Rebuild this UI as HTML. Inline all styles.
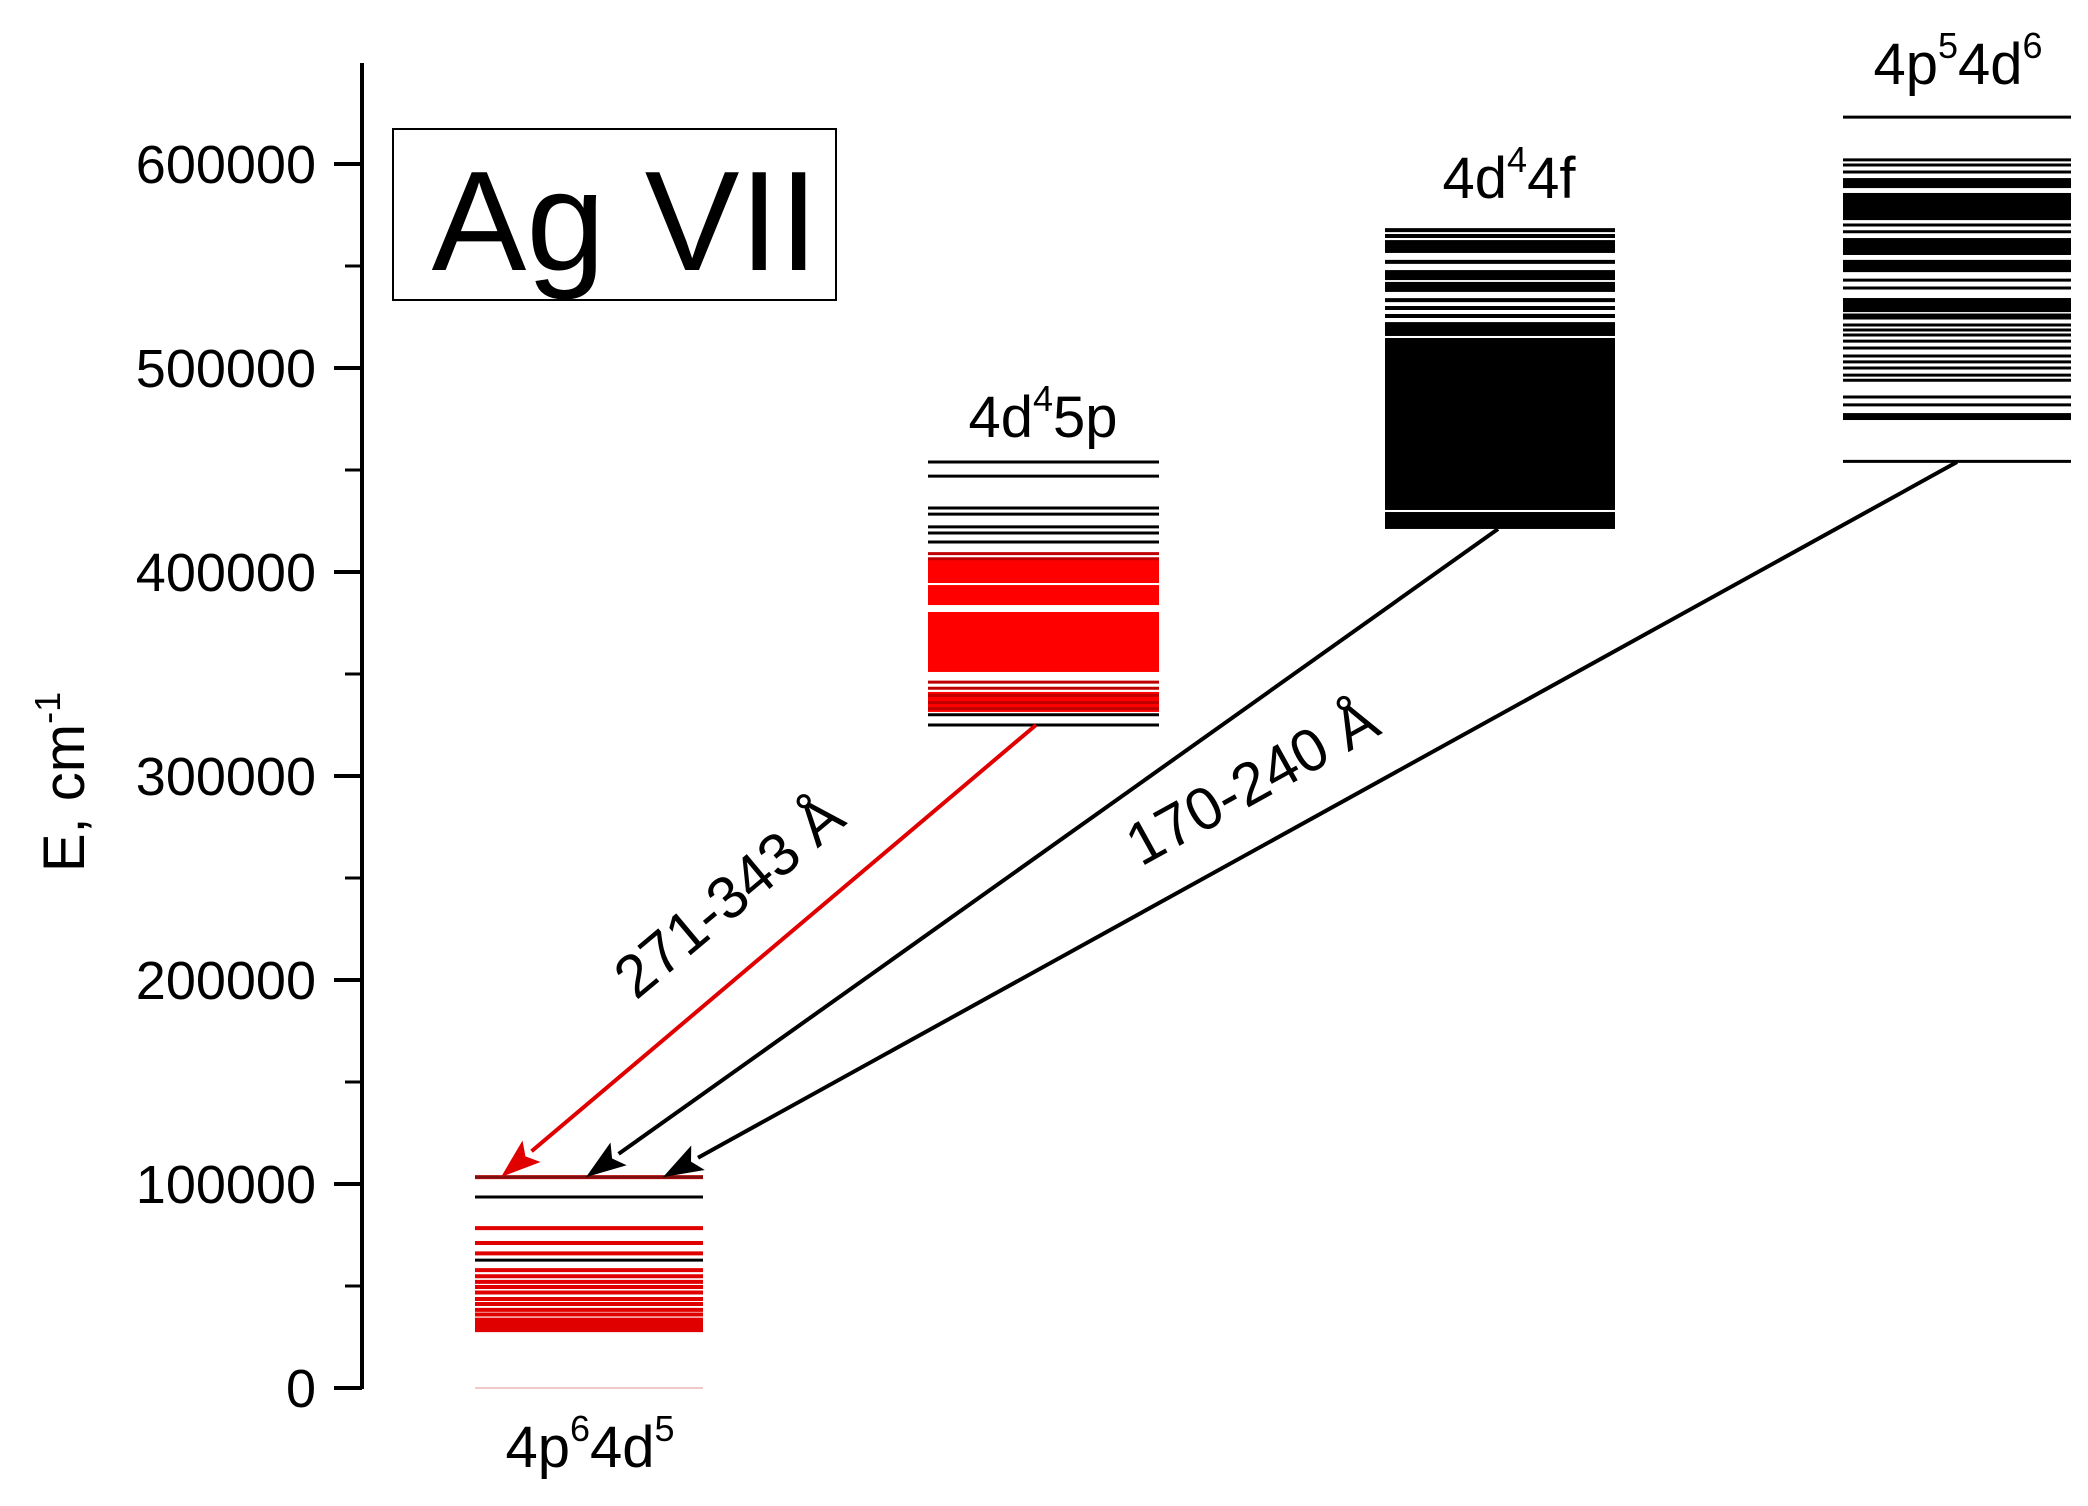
<!DOCTYPE html>
<html><head><meta charset="utf-8"><style>
html,body{margin:0;padding:0;background:#fff;}
svg{display:block;font-family:"Liberation Sans",Arial,sans-serif;}
</style></head><body>
<svg id="chart" width="2088" height="1506" viewBox="0 0 2088 1506" xmlns="http://www.w3.org/2000/svg">
<g id="axis"></g>
<text transform="translate(84,782) rotate(-90)" text-anchor="middle" font-size="58">E, cm<tspan dy="-24" font-size="36">-1</tspan></text>
<g>
<rect x="393" y="129" width="443" height="171" fill="#fff" stroke="#000" stroke-width="2"/>
<text x="625" y="270" text-anchor="middle" font-size="142">Ag VII</text>
</g>
<g id="levels"></g>
<g id="arrows"></g>
<text x="590" y="1467" text-anchor="middle" font-size="58">4p<tspan dy="-26" font-size="36">6</tspan><tspan dy="26">4d</tspan><tspan dy="-26" font-size="36">5</tspan></text>
<text x="1043" y="437" text-anchor="middle" font-size="58">4d<tspan dy="-26" font-size="36">4</tspan><tspan dy="26">5p</tspan></text>
<text x="1509" y="198" text-anchor="middle" font-size="58">4d<tspan dy="-26" font-size="36">4</tspan><tspan dy="26">4f</tspan></text>
<text x="1958" y="84" text-anchor="middle" font-size="58">4p<tspan dy="-26" font-size="36">5</tspan><tspan dy="26">4d</tspan><tspan dy="-26" font-size="36">6</tspan></text>
<text transform="translate(742,912) rotate(-40)" text-anchor="middle" font-size="60">271-343 Å</text>
<text transform="translate(1262,800) rotate(-29)" text-anchor="middle" font-size="60">170-240 Å</text>
</svg>
<script>
const yTicks=[0,100000,200000,300000,400000,500000,600000];
const yTickLabels=["0","100000","200000","300000","400000","500000","600000"];
const yMinor=[50000,150000,250000,350000,450000,550000];
// ground 4p6 4d5
const groundBlack=[93600,62700];
const groundRed=[103400,78400,71100,66000,57800,54800,52000,49500,46800,43600,41200,38300,36000,33500,31800,30500,29200,28400];
const groundFaint=[0];
// 4d4 5p
const p5Black=[453900,447000,431400,428400,422100,419100,414700,330000,325000];
const p5RedLines=[409000,406500,346000,343000,339500,336000,333000];
const p5RedBands=[[394600,405900],[383800,393600],[351000,380400],[331400,341200]];
// 4d4 4f
const f4Lines=[567600,564700,552000,533300,529400,525500];
const f4Bands=[[556400,562700],[543100,548000],[537300,542200],[515700,522500],[430400,514700],[421100,429400]];
// 4p5 4d6
const d6Lines=[623000,602000,599500,596100,570100,566800,543100,539200,526000,524500,521100,518600,516200,513200,509800,505900,503000,500000,496500,494000,485800,481900,454200];
const d6Bands=[[588200,593100],[572500,585800],[555400,563700],[547000,553000],[527400,534300],[474500,477900]];
// transitions: upper energy, lower energy
const transUpper=[325000,421100,453900];
const transLower=[103400,103400,103400];

const NS="http://www.w3.org/2000/svg";
const y0=1388, pxPer=204/100000;
function yS(e){return y0-e*pxPer;}
function mk(tag,attrs,parent){const el=document.createElementNS(NS,tag);for(const k in attrs)el.setAttribute(k,attrs[k]);parent.appendChild(el);return el;}

const ax=document.getElementById('axis');
const axl=mk('line',{x1:362,y1:63,x2:362,y2:yS(0)+1,stroke:'#000','stroke-width':4},ax);


yTicks.forEach((t,i)=>{
  const tk=mk('line',{x1:334,y1:yS(t),x2:362,y2:yS(t),stroke:'#000','stroke-width':4},ax);
  
  
  const tl=mk('text',{x:316,y:yS(t)+19,'text-anchor':'end','font-size':54},ax);
  tl.textContent=yTickLabels[i];
  
  
});
yMinor.forEach(t=>{
  const tk=mk('line',{x1:345,y1:yS(t),x2:362,y2:yS(t),stroke:'#000','stroke-width':3},ax);
  
  
});

const lv=document.getElementById('levels');
function lines(arr,x1,x2,color,w,name){arr.forEach(e=>{
  const l=mk('line',{x1:x1,x2:x2,y1:yS(e),y2:yS(e),stroke:color,'stroke-width':w},lv);
  
  
});}
function bands(arr,x1,x2,color,name){arr.forEach(b=>{
  const r=mk('rect',{x:x1,width:x2-x1,y:yS(b[1]),height:yS(b[0])-yS(b[1]),fill:color},lv);
  
  
});}
lines(groundFaint,475,703,'#f3c8c8',2,'ground-level-zero');
lines(groundRed,475,703,'#e00000',4,'ground-level-red');
lines(groundBlack,475,703,'#000',3,'ground-level-black');
lines([103400],475,703,'#7a1010',3,'ground-level-top');
bands(p5RedBands,928,1159,'#ff0000','band-4d4-5p');
lines(p5RedLines,928,1159,'#c00000',3,'level-4d4-5p-red');
lines(p5Black,928,1159,'#000',3,'level-4d4-5p-black');
bands(f4Bands,1385,1615,'#000','band-4d4-4f');
lines(f4Lines,1385,1615,'#000',4,'level-4d4-4f');
bands(d6Bands,1843,2071,'#000','band-4p5-4d6');
lines(d6Lines,1843,2071,'#000',3,'level-4p5-4d6');

const ar=document.getElementById('arrows');
const fromX=[1036,1498,1957], toX=[501,586,663], cols=['#e00000','#000','#000'];
transUpper.forEach((eu,i)=>{
  const x1=fromX[i],y1=yS(eu),x2=toX[i],y2=yS(transLower[i]);
  const dx=x2-x1,dy=y2-y1,L=Math.hypot(dx,dy),ux=dx/L,uy=dy/L;
  const hl=40,hw=14,bx=x2-ux*hl,by=y2-uy*hl;
  const ln=mk('line',{x1:x1,y1:y1,x2:bx,y2:by,stroke:cols[i],'stroke-width':4},ar);
  
  
  const hd=mk('polygon',{points:`${x2},${y2} ${bx-uy*hw},${by+ux*hw} ${bx+ux*8},${by+uy*8} ${bx+uy*hw},${by-ux*hw}`,fill:cols[i]},ar);
  
  
});
</script>
</body></html>
